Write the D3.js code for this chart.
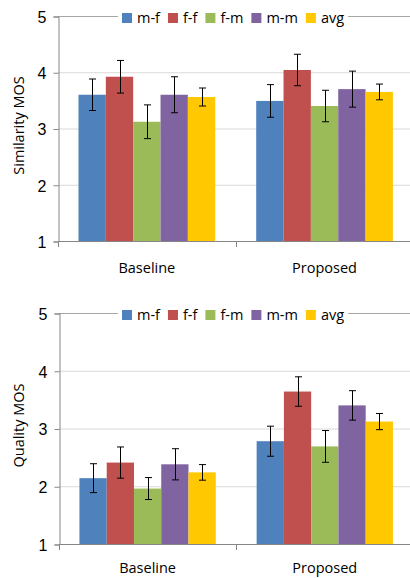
<!DOCTYPE html>
<html>
<head>
<meta charset="utf-8">
<script src="https://cdn.jsdelivr.net/npm/d3@7"></script>
<style>
  body { margin: 0; background: #fff; }
  svg { display: block; font-family: "Open Sans", "Noto Sans", sans-serif; }
</style>
</head>
<body>
<div id="chart"></div>
<script>
const categories = ['Baseline', 'Proposed'];
const series = ['m-f', 'f-f', 'f-m', 'm-m', 'avg'];
const colors = ['#4f81bd', '#c0504d', '#9bbb59', '#8064a2', '#ffc800'];
const yTicks = [1, 2, 3, 4, 5];

// similarity MOS, [Baseline, Proposed] per series
const simValues = [[3.60, 3.49], [3.92, 4.04], [3.12, 3.40], [3.60, 3.70], [3.56, 3.65]];
const simErrors = [[0.28, 0.29], [0.29, 0.28], [0.30, 0.28], [0.32, 0.32], [0.16, 0.14]];

// quality MOS
const qualValues = [[2.14, 2.78], [2.41, 3.64], [1.96, 2.69], [2.38, 3.40], [2.24, 3.12]];
const qualErrors = [[0.25, 0.26], [0.27, 0.255], [0.19, 0.275], [0.27, 0.255], [0.135, 0.14]];

const W = 410, H = 578;
const svg = d3.select('#chart').append('svg')
    .attr('width', W)
    .attr('height', H);

function drawPanel(top, bottom, left, title, values, errors, labelDy) {
    const g = svg.append('g');

    const x0 = d3.scaleBand().domain(categories).range([left, 413.4]);
    const x1 = d3.scaleBand().domain(series).range([0, x0.bandwidth()]).paddingOuter(0.75);
    const y = d3.scaleLinear().domain([1, 5]).range([bottom, top]);

    // gridlines
    g.append('g')
        .selectAll('line')
        .data(yTicks.slice(1))
        .enter()
        .append('line')
        .attr('x1', left)
        .attr('x2', W)
        .attr('y1', d => y(d) + 0.5)
        .attr('y2', d => y(d) + 0.5)
        .attr('stroke', d => d === 5 ? '#a6a6a6' : '#d9d9d9')
        .attr('stroke-width', 1);

    // y axis
    const yAxis = g.append('g')
        .attr('transform', `translate(${left + 0.5}, 0.5)`)
        .call(d3.axisLeft(y).tickValues(yTicks).tickSize(5).tickPadding(7).tickFormat(d3.format('d')));
    yAxis.select('.domain').attr('stroke', '#868686');
    yAxis.selectAll('.tick line').attr('stroke', '#868686');
    yAxis.selectAll('text')
        .attr('fill', '#000')
        .style('font-size', '16px')
        .attr('dy', '0.36em');

    // bars
    series.forEach((s, i) => {
        g.selectAll(null)
            .data(categories)
            .enter()
            .append('rect')
            .attr('x', c => x0(c) + x1(s))
            .attr('y', (c, j) => y(values[i][j]))
            .attr('width', x1.bandwidth())
            .attr('height', (c, j) => bottom - y(values[i][j]))
            .attr('fill', colors[i]);
    });

    // x axis
    g.append('line')
        .attr('x1', left)
        .attr('x2', W)
        .attr('y1', bottom + 0.5)
        .attr('y2', bottom + 0.5)
        .attr('stroke', '#868686');
    g.selectAll(null)
        .data([0, 1, 2])
        .enter()
        .append('line')
        .attr('x1', d => Math.round(left + d * x0.bandwidth()) + 0.5)
        .attr('x2', d => Math.round(left + d * x0.bandwidth()) + 0.5)
        .attr('y1', bottom)
        .attr('y2', bottom + 6)
        .attr('stroke', '#868686');
    g.selectAll(null)
        .data(categories)
        .enter()
        .append('text')
        .attr('x', c => x0(c) + x0.bandwidth() / 2)
        .attr('y', bottom + labelDy)
        .attr('text-anchor', 'middle')
        .style('font-size', '14.5px')
        .text(c => c);

    // error bars
    series.forEach((s, i) => {
        categories.forEach((c, j) => {
            const cx = Math.round(x0(c) + x1(s) + x1.bandwidth() / 2) + 0.5;
            const hi = y(values[i][j] + errors[i][j]);
            const lo = y(values[i][j] - errors[i][j]);
            const eb = g.append('g').attr('stroke', '#000').attr('stroke-width', 1);
            eb.append('line').attr('x1', cx).attr('x2', cx).attr('y1', hi).attr('y2', lo);
            eb.append('line').attr('x1', cx - 3.5).attr('x2', cx + 3.5).attr('y1', hi).attr('y2', hi);
            eb.append('line').attr('x1', cx - 3.5).attr('x2', cx + 3.5).attr('y1', lo).attr('y2', lo);
        });
    });

    // y axis title
    g.append('text')
        .attr('transform', `translate(24, ${(top + bottom) / 2 - 3}) rotate(-90)`)
        .attr('text-anchor', 'middle')
        .style('font-size', '14.5px')
        .text(title);

    // legend
    const leg = g.append('g').attr('transform', `translate(0, ${top + 2})`);
    const bg = leg.append('rect').attr('fill', '#fff');
    let lx = 122;
    series.forEach((s, i) => {
        leg.append('rect')
            .attr('x', lx)
            .attr('y', -5)
            .attr('width', 10)
            .attr('height', 10)
            .attr('fill', colors[i]);
        const t = leg.append('text')
            .attr('x', lx + 15)
            .attr('y', 0)
            .attr('dy', '0.35em')
            .style('font-size', '14.5px')
            .text(s);
        lx += 15 + t.node().getComputedTextLength() + 8;
    });
    bg.attr('x', 118).attr('y', -9).attr('width', lx - 118 - 4).attr('height', 18);
}

drawPanel(16, 241, 58, 'Similarity MOS', simValues, simErrors, 32);
drawPanel(313, 544, 59, 'Quality MOS', qualValues, qualErrors, 29);
</script>
</body>
</html>
